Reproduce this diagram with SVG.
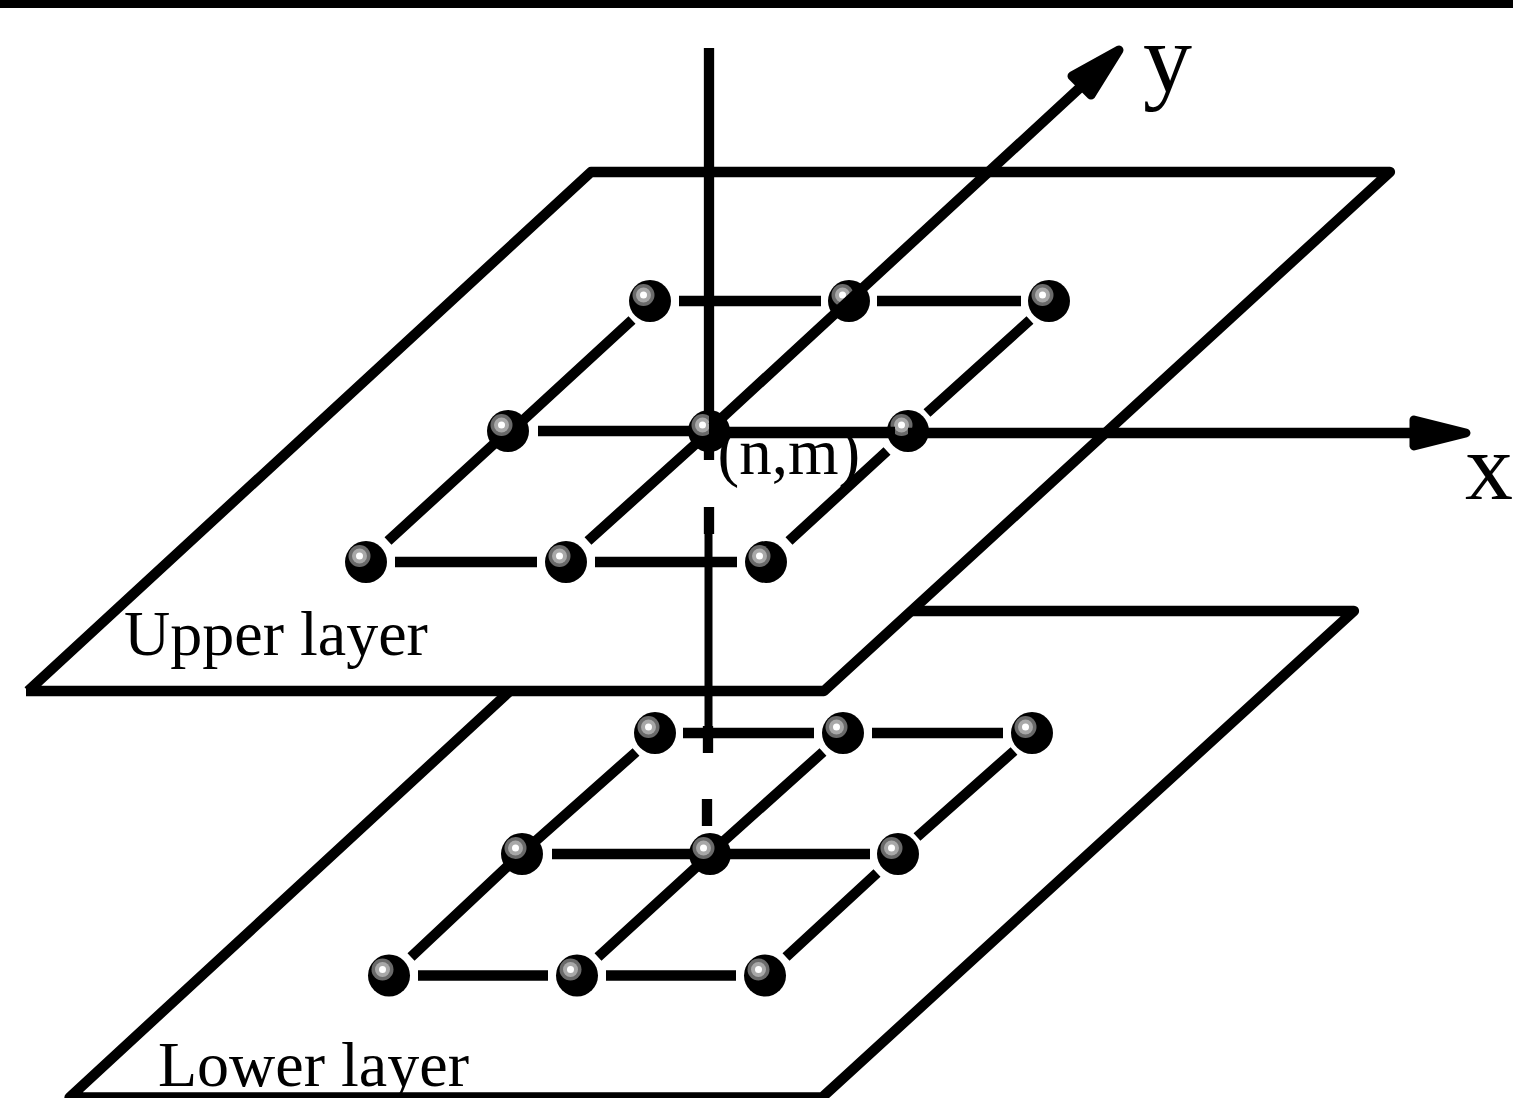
<svg xmlns="http://www.w3.org/2000/svg" width="1513" height="1098" viewBox="0 0 1513 1098">
<style>
.l{fill:none;stroke:#000;stroke-width:10.300}
.t{font-family:"Liberation Serif","Times New Roman",serif;fill:#000}
</style>
<defs>
<g id="ball">
<circle r="21" fill="#000"/>
<circle cx="-6.500" cy="-6" r="11" fill="#6a6a6a"/>
<circle cx="-6.500" cy="-6" r="7.500" fill="#a8a8a8"/>
<circle cx="-6.500" cy="-6" r="3.500" fill="#fff"/>
</g>
</defs>
<rect id="top-bar" x="0" y="0" width="1513" height="8" fill="#000"/>
<g id="lower-plane"><path class="l" stroke-linejoin="round" d="M912 611H1354L822 1097.500H69.500L510 691"/></g>
<g id="upper-plane"><path class="l" stroke-linejoin="round" d="M28 691L591 172H1390L824 691H26"/></g>
<g id="connectors">
<path class="l" d="M679 301H821M877 301H1021M538 431H690M395 562H537M595 562H737M632 320L520 423M1030 320L927 413M495 443L388 541M700 440L588 541M887 451L789 541"/>
<path class="l" d="M709 48V460M709 507V534M708 726V753M707 799V826"/>
<path class="l" style="stroke-width:8" d="M708.500 534V726"/>
<path class="l" d="M683 733H814M872 733H1003M552 854H700M720 854H870M418 975.500H548M606 975.500H736M636 752L530 846M1014 751L917 837M510 864L411 957M704 860L598 957M877 873L786 957M823 752L716 848"/>
</g>
<g id="n1"><use href="#ball" x="650" y="301"/></g>
<g id="n2"><use href="#ball" x="849" y="301"/></g>
<g id="n3"><use href="#ball" x="1049" y="301"/></g>
<g id="n4"><use href="#ball" x="508" y="431"/></g>
<g id="n5"><use href="#ball" x="709" y="431"/></g>
<g id="n6"><use href="#ball" x="908" y="431"/></g>
<g id="n7"><use href="#ball" x="366" y="562"/></g>
<g id="n8"><use href="#ball" x="566" y="562"/></g>
<g id="n9"><use href="#ball" x="766" y="562"/></g>
<g id="m1"><use href="#ball" x="655" y="733"/></g>
<g id="m2"><use href="#ball" x="843" y="733"/></g>
<g id="m3"><use href="#ball" x="1032" y="733"/></g>
<g id="m4"><use href="#ball" x="522" y="854"/></g>
<g id="m5"><use href="#ball" x="710" y="854"/></g>
<g id="m6"><use href="#ball" x="898" y="854"/></g>
<g id="m7"><use href="#ball" x="389" y="975.500"/></g>
<g id="m8"><use href="#ball" x="577" y="975.500"/></g>
<g id="m9"><use href="#ball" x="765" y="975.500"/></g>
<g id="axes">
<path class="l" d="M908 433H1420M712 427L1085 83"/>
<path class="l" style="stroke-width:11.500" d="M709 432.500H895"/>
<path class="l" style="stroke-width:6" d="M712 414V450"/>
<path d="M1414 420L1466 433L1414 446Z" fill="#000" stroke="#000" stroke-width="9" stroke-linejoin="round"/>
<path d="M1119 50L1072 76L1091 95Z" fill="#000" stroke="#000" stroke-width="9" stroke-linejoin="round"/>
</g>
<g id="labels">
<text class="t" x="1143" y="91" font-size="98">y</text>
<text class="t" x="1465" y="499" font-size="96">x</text>
<text class="t" x="717.500" y="474" font-size="65">(n,m)</text>
<text class="t" x="124" y="655" font-size="64">Upper layer</text>
<text class="t" x="158" y="1086" font-size="64">Lower layer</text>
</g>
</svg>
